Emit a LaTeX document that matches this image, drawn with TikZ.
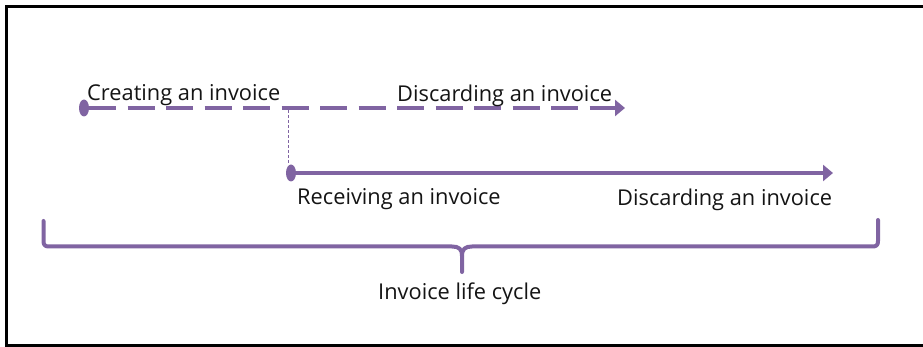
\documentclass[tikz,border=0pt]{standalone}
\usepackage{fontspec}
\setmainfont{Open Sans}
\usetikzlibrary{arrows.meta,shapes.geometric}
\definecolor{lilac}{HTML}{8064A2}
\definecolor{ink}{HTML}{141414}
\tikzset{
  lbl/.style={anchor=base west,inner sep=0pt,text=ink,font=\fontsize{21.8}{24}\selectfont},
  dot/.style={ellipse,fill=lilac,draw=none,minimum width=10pt,minimum height=17pt,inner sep=0pt},
  tl/.style={draw=lilac,line width=4.5pt},
  tip/.style={-{Triangle[length=10pt,width=16pt]}},
  frame/.style={line width=3pt,black},
}
\begin{document}
\begin{tikzpicture}[x=1pt,y=-1pt]
\useasboundingbox (0,0) rectangle (923,347);
\draw[frame] (923,6.5) -- (6.5,6.5) -- (6.5,345.5) -- (923,345.5);
% dots and ends
\node[dot] (d1) at (84,108) {};
\node[dot] (d2) at (291,173) {};
\coordinate (e1) at (625,108);
\coordinate (e2) at (833,173);
\coordinate (v1) at (288.5,110);
% connectors
\draw[tl,tip,dash pattern=on 27pt off 11.5pt] (d1) -- (e1);
\draw[tl,tip] (d2.center) -- (e2);
\draw[lilac,line width=1pt,dash pattern=on 3pt off 2pt] (v1) -- (d2.north -| v1);
% labels
\node[lbl] (t1) at (87,101) {Creating an invoice};
\node[lbl] (t2) at (397,102) {Discarding an invoice};
\node[lbl] (t3) at (297,205) {Receiving an invoice};
\node[lbl] (t4) at (617,206) {Discarding an invoice};
\node[lbl] (t5) at (378,299) {Invoice life cycle};
% brace
\draw[lilac,line width=4pt,line cap=round,line join=round]
  (43.5,221) -- (43.5,241) .. controls (43.5,245) and (45,246.5) .. (49,246.5)
  -- (452,246.5) .. controls (459,246.5) and (462,249) .. (462,256) -- (462,272);
\draw[lilac,line width=4pt,line cap=round,line join=round]
  (878,220) -- (878,241) .. controls (878,245) and (876.5,246.5) .. (872.5,246.5)
  -- (472,246.5) .. controls (465,246.5) and (462,249) .. (462,256);
\end{tikzpicture}
\end{document}
